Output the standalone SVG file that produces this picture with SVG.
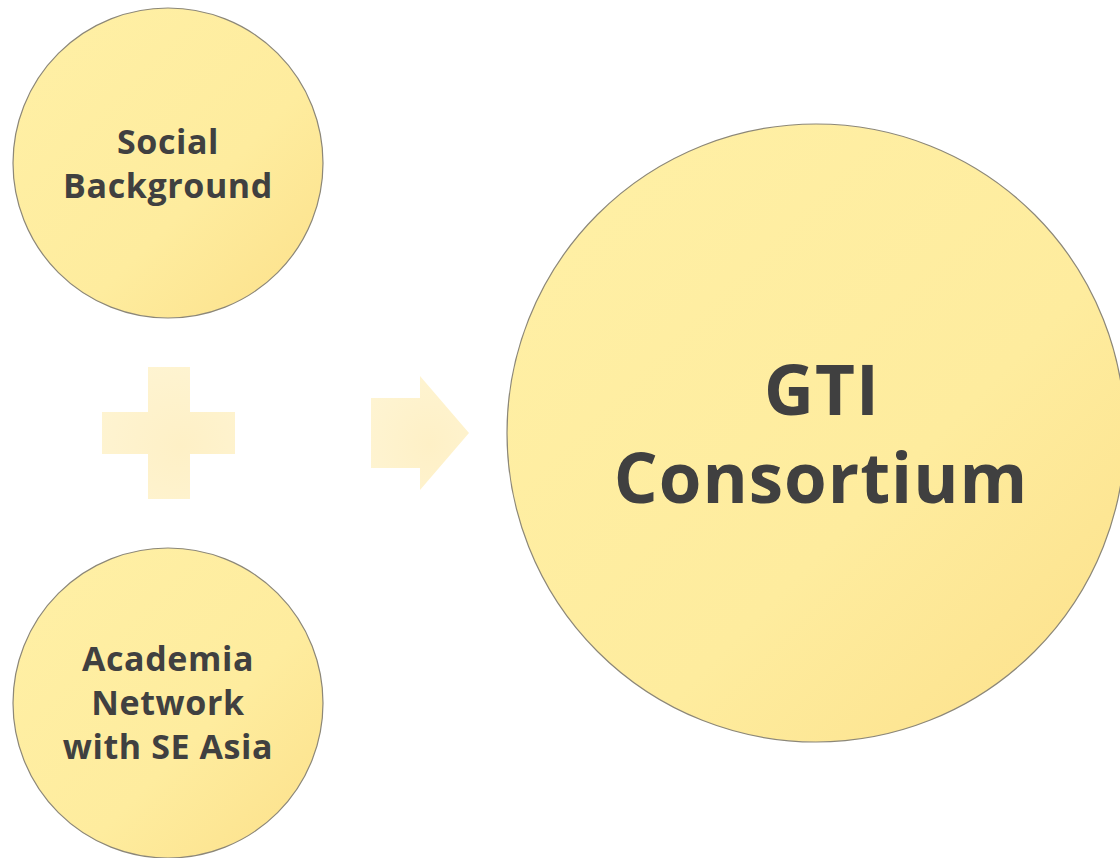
<svg xmlns="http://www.w3.org/2000/svg" width="1120" height="858" viewBox="0 0 1120 858">
<style>
.node circle{stroke:#8c8778;stroke-width:1.2;}
.lbl{font-family:"Open Sans","Noto Sans","Liberation Sans",sans-serif;font-weight:bold;fill:#404040;text-anchor:middle;}
.sm{font-size:34px;letter-spacing:0.6px;}
.lg{font-size:69px;letter-spacing:1px;}
.op{fill:url(#opg);}
</style>
<defs>
<linearGradient id="cg" x1="0" y1="0" x2="1" y2="1">
<stop offset="0" stop-color="#FFF0A6"/>
<stop offset="0.6" stop-color="#FEEC9E"/>
<stop offset="1" stop-color="#FCE08A"/>
</linearGradient>
<radialGradient id="opg" cx="0.6" cy="0.6" r="0.7">
<stop offset="0" stop-color="#FEF0C6"/>
<stop offset="1" stop-color="#FEF4D2"/>
</radialGradient>
</defs>
<rect width="1120" height="858" fill="#ffffff"/>
<g id="social-background" class="node">
<circle cx="168" cy="163" r="155" fill="url(#cg)"/>
<text class="lbl sm" x="168" y="154">Social</text>
<text class="lbl sm" x="168" y="198">Background</text>
</g>
<g id="academia-network" class="node">
<circle cx="168" cy="703" r="155" fill="url(#cg)"/>
<text class="lbl sm" x="168" y="671">Academia</text>
<text class="lbl sm" x="168" y="715">Network</text>
<text class="lbl sm" x="168" y="759">with SE Asia</text>
</g>
<g id="gti-consortium" class="node">
<circle cx="816" cy="433" r="309" fill="url(#cg)"/>
<text class="lbl lg" x="822" y="415">GTI</text>
<text class="lbl lg" x="821" y="503">Consortium</text>
</g>
<g id="connectors">
<path class="op" d="M148,367 H190 V412 H235 V454 H190 V499 H148 V454 H102 V412 H148 Z"/>
<path class="op" d="M371,398 H420 V376 L469,433 L420,490 V468 H371 Z"/>
</g>
</svg>
